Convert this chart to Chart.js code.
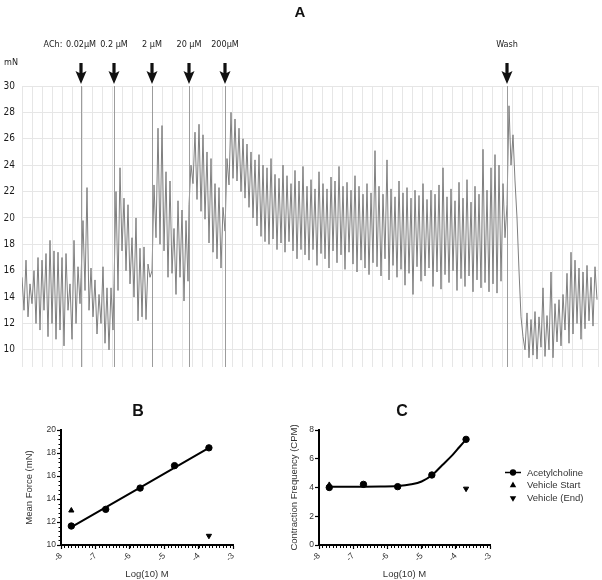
<!DOCTYPE html>
<html>
<head>
<meta charset="utf-8">
<script src="https://cdn.jsdelivr.net/npm/chart.js@4.4.1/dist/chart.umd.min.js"></script>
<style>
  body { margin: 0; background: #fff; }
  #wrap { position: relative; width: 602px; height: 580px; }
  canvas { position: absolute; }
  #traceChart { left: 0px; top: 0px; }
  #forceChart { left: 0px; top: 395px; }
  #freqChart { left: 260px; top: 395px; }
</style>
</head>
<body>
<div id="wrap">
  <canvas id="traceChart" width="602" height="380"></canvas>
  <canvas id="forceChart" width="250" height="185"></canvas>
  <canvas id="freqChart" width="342" height="185"></canvas>
</div>
<script>
// panel A: force trace (mN), one reading every 2 time units
var sampleStep = 2;
var doseTimes = [59, 92, 130, 167, 203];
var doseLabels = ['0.02μM', '0.2 μM', '2 μM', '20 μM', '200μM'];
var washTime = 485;
var yTicksTrace = [10, 12, 14, 16, 18, 20, 22, 24, 26, 28, 30];

var traceBaseline = [15.5, 13, 16.8, 12.5, 15, 13.5, 16, 12, 17, 11.5, 16.8, 13, 17.3, 11, 18.3,
  12, 17.5, 10.8, 17.4, 11.5, 17, 10.3, 17.3, 13, 15, 10.8, 18.3, 12, 16.3, 13.5];
var trace002 = [15.5, 19.8, 14.5, 22.3, 13, 16.2, 12.5, 15.3, 11.2, 14.2, 12, 16.3, 10.5, 14.7, 10, 14.7, 11.5];
var trace02 = [15, 22, 14.5, 23.8, 17.5, 21.5, 16, 21, 15, 18.5, 14, 20, 12.2, 17.7, 12.5, 17.8, 12.3, 16.5, 15.5];
var trace2 = [16, 22.5, 18.5, 26.8, 18, 27, 17.5, 23.5, 15.5, 22.8, 15.8, 19.2, 14.2, 21.3, 15.5, 20.6, 13.7, 19.8, 15.2];
var trace20 = [21, 24, 22.6, 26.5, 21.4, 27.1, 20.5, 26.3, 19.9, 25, 18.1, 24.5, 17.4, 22.6, 16.9, 22.3, 16.2, 20.8];
var trace200 = [19, 24.5, 22.5, 28, 23, 27.5, 22.8, 26.8, 22,
  26, 21.5, 25.6, 20.8, 25, 20, 24.4, 19.4, 24.8, 18.6, 24,
  18.2, 23.8, 18, 24.5, 18.4, 23.3, 17.6, 23, 18.1, 24, 17.4, 23.2, 18.2, 22.6, 17.5, 23.6, 16.9, 22.8, 17.6, 23.9,
  17.2, 22.4, 16.8, 22.9, 17.6, 22.2, 16.4, 23.5, 17.3, 22.6, 16.9, 22.2, 16.2, 23.1, 17.5, 22.8, 16.6, 23.9, 17.2, 22.4,
  16.1, 22.7, 17.4, 22.1, 16.5, 23.2, 15.9, 22.4, 16.8, 21.8,
  16.2, 22.6, 15.7, 21.9, 16.6, 25.1, 16.3, 22.4, 15.6, 21.8, 16.9, 24.4, 15.3, 22.2, 16.4, 21.6, 15.5, 22.8, 16.1, 21.9,
  14.9, 22.3, 15.8, 21.5, 14.2, 22.1, 16.3, 21.7, 15.2, 22.6,
  15.6, 21.4, 16.2, 22.1, 14.8, 21.8, 15.9, 22.5, 14.6, 23.8, 15.7, 21.6, 15.1, 22.2, 16, 21.3, 14.5, 22.7, 15.4, 21.5,
  14.8, 22.9, 15.6, 21.2, 14.4, 22.4, 15.3, 21.8, 14.7, 25.2,
  15.1, 22.1, 14.4, 23.8, 15, 24.8, 14.3, 24, 15.2, 22.6, 18.5];
var traceWash = [21, 28.5, 24, 26.3, 22.8, 20, 16, 12.5, 11, 10, 12.8, 9.4, 12.3, 9.6, 12.9, 9.3, 12.5, 10.2, 14.7, 9.5,
  12.6, 10, 15.9, 9.4, 13.5, 10.6, 13.8, 10.3, 14.2, 11.5, 15.8, 10.5, 17.4, 11.2, 16.8, 12, 16.2, 10.8, 15.9, 11.6,
  16.4, 12.2, 15.5, 11.8, 16.3, 13.8];

// panels B and C
var logDose = [-7.7, -6.7, -5.7, -4.7, -3.7];
var logTicks = [-8, -7, -6, -5, -4, -3];
var forceACh = [11.65, 13.1, 14.95, 16.9, 18.45];
var forceVehicle = [13.0, 10.8];
var fitForceX = [-7.7, -3.7];
var fitForceY = [11.55, 18.45];
var freqACh = [4.0, 4.22, 4.06, 4.87, 7.35];
var freqVehicle = [4.18, 3.92];
var fitFreqX = [-7.7, -7.2, -6.7, -6.2, -5.7, -5.3, -5.0, -4.7, -4.4, -4.1, -3.9, -3.7];
var fitFreqY = [4.06, 4.06, 4.06, 4.07, 4.1, 4.22, 4.42, 4.85, 5.55, 6.25, 6.8, 7.35];

var condensed = "'DejaVu Sans Condensed', 'Liberation Sans Narrow', 'DejaVu Sans', sans-serif";
var arial = "'Liberation Sans', Arial, sans-serif";

function toPoints(xs, ys) {
    return xs.map(function (x, i) { return {x: x, y: ys[i]}; });
}

function buildTrace() {
    var segments = [[0, traceBaseline]];
    var doseTraces = [trace002, trace02, trace2, trace20, trace200];
    for (var i = 0; i < doseTimes.length; i++) {
        segments.push([doseTimes[i], doseTraces[i]]);
    }
    segments.push([washTime, traceWash]);
    var pts = [];
    segments.forEach(function (seg) {
        seg[1].forEach(function (v, j) {
            pts.push({x: seg[0] + j * sampleStep, y: v});
        });
    });
    return pts;
}

function drawArrow(ctx, x, top, bottom) {
    ctx.beginPath();
    ctx.moveTo(x - 1.6, top);
    ctx.lineTo(x + 1.6, top);
    ctx.lineTo(x + 1.6, bottom - 11);
    ctx.lineTo(x + 5.5, bottom - 13);
    ctx.lineTo(x, bottom);
    ctx.lineTo(x - 5.5, bottom - 13);
    ctx.lineTo(x - 1.6, bottom - 11);
    ctx.closePath();
    ctx.fill();
}

var dosePlugin = {
    id: 'doses',
    afterDatasetsDraw: function (chart) {
        var ctx = chart.ctx, area = chart.chartArea, xs = chart.scales.x;
        var marks = doseTimes.concat([washTime]);
        var texts = doseLabels.concat(['Wash']);
        ctx.save();
        ctx.strokeStyle = '#9c9c9c';
        ctx.lineWidth = 1;
        marks.forEach(function (t) {
            var px = Math.round(xs.getPixelForValue(t)) + 0.5;
            ctx.beginPath();
            ctx.moveTo(px, area.top);
            ctx.lineTo(px, area.bottom);
            ctx.stroke();
        });
        ctx.fillStyle = '#111';
        marks.forEach(function (t) {
            drawArrow(ctx, xs.getPixelForValue(t), 63, 84);
        });
        ctx.font = '9px ' + condensed;
        ctx.textAlign = 'center';
        ctx.textBaseline = 'middle';
        ctx.fillStyle = '#222';
        marks.forEach(function (t, i) {
            ctx.fillText(texts[i], xs.getPixelForValue(t), 45);
        });
        ctx.fillText('ACh:', 53, 45);
        ctx.fillText('mN', 11, 63);
        ctx.font = 'bold 15px ' + arial;
        ctx.fillStyle = '#111';
        ctx.fillText('A', 300, 13);
        ctx.restore();
    }
};

// small tick marks between the labelled ones, plus panel letter and legend
var panelPlugin = {
    id: 'panel',
    afterDraw: function (chart, args, opts) {
        var ctx = chart.ctx, area = chart.chartArea;
        var xs = chart.scales.x, ys = chart.scales.y;
        ctx.save();
        ctx.strokeStyle = '#000';
        ctx.lineWidth = 1;
        ctx.beginPath();
        var n = Math.round((xs.max - xs.min) / opts.xMinor);
        for (var i = 1; i < n; i++) {
            var px = Math.round(xs.getPixelForValue(xs.min + i * opts.xMinor)) + 0.5;
            ctx.moveTo(px, area.bottom);
            ctx.lineTo(px, area.bottom + 3);
        }
        if (opts.yMinor) {
            n = Math.round((ys.max - ys.min) / opts.yMinor);
            for (i = 1; i < n; i++) {
                var py = Math.round(ys.getPixelForValue(ys.min + i * opts.yMinor)) + 0.5;
                ctx.moveTo(area.left, py);
                ctx.lineTo(area.left - 2.5, py);
            }
        }
        ctx.stroke();

        ctx.font = 'bold 16px ' + arial;
        ctx.fillStyle = '#111';
        ctx.textAlign = 'center';
        ctx.textBaseline = 'middle';
        ctx.fillText(opts.letter, opts.letterX, 17);

        if (opts.legend) {
            var H = Chart.helpers;
            var sets = chart.data.datasets.filter(function (d) { return d.label; });
            ctx.font = '9.5px ' + arial;
            ctx.textAlign = 'left';
            sets.forEach(function (d, i) {
                var y = 77.5 + i * 12.8;
                var cx = 253;
                ctx.strokeStyle = '#000';
                ctx.fillStyle = '#000';
                if (i === 0) {
                    ctx.lineWidth = 1.5;
                    ctx.beginPath();
                    ctx.moveTo(cx - 8, y);
                    ctx.lineTo(cx + 8, y);
                    ctx.stroke();
                }
                H.drawPoint(ctx, {
                    pointStyle: d.pointStyle,
                    rotation: d.rotation || 0,
                    radius: d.pointRadius * 0.75,
                    borderWidth: 1
                }, cx, y);
                ctx.fillStyle = '#333';
                ctx.fillText(d.label, 267, y + 0.5);
            });
        }
        ctx.restore();
    }
};

function axisOptions(min, max, step, width, titleText) {
    return {
        x: {
            type: 'linear', min: -8, max: -3,
            afterBuildTicks: function (s) { s.ticks = logTicks.map(function (v) { return {value: v}; }); },
            ticks: {minRotation: 45, maxRotation: 45, padding: 2, color: '#333', font: {family: arial, size: 8.5}},
            grid: {drawOnChartArea: false, tickLength: 4, tickColor: '#000', tickWidth: 1.2},
            border: {color: '#000', width: 2},
            title: {display: true, text: 'Log(10) M', color: '#333', font: {family: arial, size: 9.5}, padding: {top: 0, bottom: 0}},
            afterFit: function (s) { s.height = 35; }
        },
        y: {
            type: 'linear', min: min, max: max,
            ticks: {stepSize: step, padding: 1, color: '#333', font: {family: arial, size: 8.5}},
            grid: {drawOnChartArea: false, tickLength: 4, tickColor: '#000', tickWidth: 1.2},
            border: {color: '#000', width: 2},
            title: {display: true, text: titleText, color: '#333', font: {family: arial, size: 9.5}, padding: {top: 4, bottom: 0}},
            afterFit: function (s) { s.width = width; }
        }
    };
}

function responseSets(yACh, yVehicle, fitX, fitY) {
    return [
        {data: toPoints(fitX, fitY), showLine: true, borderColor: '#000', borderWidth: 2, pointRadius: 0,
            cubicInterpolationMode: 'monotone'},
        {label: 'Acetylcholine', data: toPoints(logDose, yACh), pointStyle: 'circle', pointRadius: 3.2,
            backgroundColor: '#000', borderColor: '#000'},
        {label: 'Vehicle Start', data: [{x: logDose[0], y: yVehicle[0]}], pointStyle: 'triangle', pointRadius: 3,
            backgroundColor: '#000', borderColor: '#000'},
        {label: 'Vehicle (End)', data: [{x: logDose[logDose.length - 1], y: yVehicle[1]}], pointStyle: 'triangle',
            rotation: 180, pointRadius: 3, backgroundColor: '#000', borderColor: '#000'}
    ];
}

var Figure = {
    init: function () {
        Chart.defaults.font.family = arial;
        Figure.traceChart();
        Figure.forceChart();
        Figure.freqChart();
    },
    traceChart: function () {
        new Chart(document.getElementById('traceChart'), {
            type: 'scatter',
            data: {
                datasets: [{
                    data: buildTrace(), showLine: true, borderColor: '#7f7f7f', borderWidth: 1,
                    pointRadius: 0, tension: 0
                }]
            },
            options: {
                responsive: false,
                animation: false,
                layout: {padding: {top: 86, right: 4, bottom: 5, left: 0}},
                plugins: {legend: {display: false}, tooltip: {enabled: false}},
                scales: {
                    x: {
                        type: 'linear', min: 0, max: 576,
                        ticks: {display: false, stepSize: 10},
                        grid: {color: '#e6e6e6', drawTicks: false},
                        border: {display: false},
                        afterFit: function (s) { s.height = 0; }
                    },
                    y: {
                        type: 'linear', min: 8.7, max: 30,
                        afterBuildTicks: function (s) {
                            s.ticks = yTicksTrace.map(function (v) { return {value: v}; });
                        },
                        ticks: {padding: 7, color: '#1a1a1a', font: {family: condensed, size: 10}},
                        grid: {color: '#e6e6e6', drawTicks: false},
                        border: {display: false},
                        afterFit: function (s) { s.width = 22; }
                    }
                }
            },
            plugins: [dosePlugin]
        });
    },
    forceChart: function () {
        new Chart(document.getElementById('forceChart'), {
            type: 'scatter',
            data: {datasets: responseSets(forceACh, forceVehicle, fitForceX, fitForceY)},
            options: {
                responsive: false,
                animation: false,
                layout: {padding: {top: 35, right: 17, bottom: 0, left: 20}},
                plugins: {
                    legend: {display: false}, tooltip: {enabled: false},
                    panel: {letter: 'B', letterX: 138, xMinor: 0.1, yMinor: 0.4, legend: false}
                },
                scales: axisOptions(10, 20, 2, 41, 'Mean Force (mN)')
            },
            plugins: [panelPlugin]
        });
    },
    freqChart: function () {
        new Chart(document.getElementById('freqChart'), {
            type: 'scatter',
            data: {datasets: responseSets(freqACh, freqVehicle, fitFreqX, fitFreqY)},
            options: {
                responsive: false,
                animation: false,
                layout: {padding: {top: 35, right: 112, bottom: 0, left: 25}},
                plugins: {
                    legend: {display: false}, tooltip: {enabled: false},
                    panel: {letter: 'C', letterX: 142, xMinor: 0.1, yMinor: 0, legend: true}
                },
                scales: axisOptions(0, 8, 2, 34, 'Contraction Frequency (CPM)')
            },
            plugins: [panelPlugin]
        });
    }
};

Figure.init();
</script>
</body>
</html>
